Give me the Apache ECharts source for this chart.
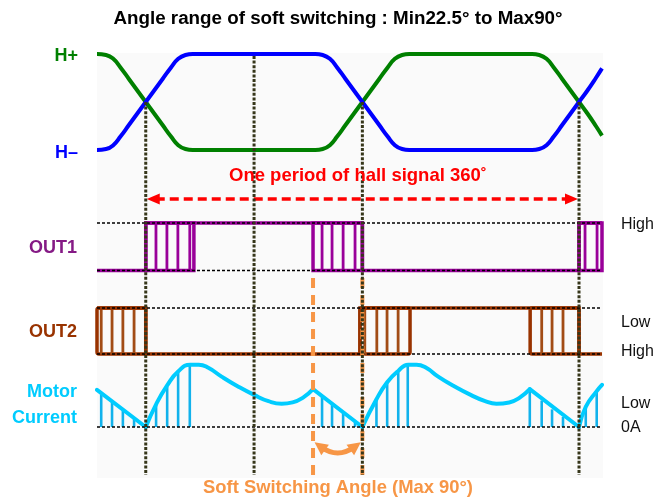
<!DOCTYPE html>
<html><head><meta charset="utf-8">
<script src="https://cdn.jsdelivr.net/npm/echarts@6/dist/echarts.min.js"></script>
<style>html,body{margin:0;padding:0;background:#fff}#c{width:655px;height:497px}</style>
</head><body><div id="c"></div>
<script>
// ---------------- data (x = electrical angle of the hall signal, degrees) ----------------
const X_MIN = -40.5, X_MAX = 379.1;

const hallPlus = [[-40.5,1],[-33,0.99],[-27,0.95],[-21,0.86],[-14,0.74],[-7,0.62],[0,0.5],[7,0.38],[14,0.26],[21,0.14],[27,0.05],[33,0.01],[39,0],[45,0],
  [135,0],[141,0],[147,0.01],[153,0.05],[159,0.14],[166,0.26],[173,0.38],[180,0.5],[187,0.62],[194,0.74],[201,0.86],[207,0.95],[213,0.99],[219,1],[225,1],
  [315,1],[321,1],[327,0.99],[333,0.95],[339,0.86],[346,0.74],[353,0.62],[360,0.5],[367,0.38],[374,0.25],[379.1,0.15]];
const hallMinus = [[-40.5,0],[-33,0.01],[-27,0.05],[-21,0.14],[-14,0.26],[-7,0.38],[0,0.5],[7,0.62],[14,0.74],[21,0.86],[27,0.95],[33,0.99],[39,1],[45,1],
  [135,1],[141,1],[147,0.99],[153,0.95],[159,0.86],[166,0.74],[173,0.62],[180,0.5],[187,0.38],[194,0.26],[201,0.14],[207,0.05],[213,0.01],[219,0],[225,0],
  [315,0],[321,0],[327,0.01],[333,0.05],[339,0.14],[346,0.26],[353,0.38],[360,0.5],[367,0.62],[374,0.75],[379.1,0.85]];

const guideAngles = [0, 90, 180, 360];
const periodArrow = [[0, 360]];
const softSwitch = [[139, 180]];

const out1Level = [[-40.5,0],[0,0],[0,1],[180,1],[180,0],[360,0],[360,1],[379.1,1]];
const out1Pwm = [[0,40],[139,180],[360,379.1]];
const out1Stripes = [8.5,17.6,26.7,36.6, 146.5,154.8,164,173.9, 365,375];

const out2Level = [[-40.5,1],[0,1],[0,0],[178,0],[178,1],[360,1],[360,0],[379.1,0]];
const out2Pwm = [[-40.5,0],[178,219.6],[319.4,360]];
const out2Stripes = [-37,-28,-19,-9.7, 182,192,200.5,209.7, 329,337.6,346.7];

const refLevelsOut = [0, 1];
const refLevelsCurrent = [0];

const currentFall1 = [[-40.5,0.59],[0,0]];
const currentRise1 = [[0,0],[8.6,0.36],[17.8,0.66],[26.9,0.88],[37,0.99],[44,0.99],[52,0.94],[63,0.8],[77,0.64],
  [90,0.51],[102,0.41],[113,0.37],[122,0.39],[131,0.47],[139,0.6]];
const currentFall2 = [[139,0.6],[180,0]];
const currentRise2 = [[180,0],[191.7,0.44],[200.6,0.71],[209.8,0.89],[218,0.99],[225,0.99],[233,0.94],[243,0.8],[256,0.65],
  [270,0.51],[282,0.41],[291.4,0.37],[302,0.39],[311,0.47],[319.1,0.6]];
const currentFall3 = [[319.1,0.6],[360,0]];
const currentRise3 = [[360,0],[365.6,0.32],[374.7,0.57],[379.1,0.67]];
const currentStems = [[-37,0.52],[-28,0.39],[-19,0.26],[-9.7,0.13],
  [8.6,0.36],[17.8,0.64],[26.9,0.86],[36.6,0.98],
  [146.5,0.50],[154.8,0.37],[164,0.24],[173.9,0.09],
  [191.7,0.43],[200.6,0.71],[209.8,0.87],[217.7,0.98],
  [319.1,0.59],[329,0.42],[337.6,0.28],[346.7,0.16],
  [365.6,0.30],[374.7,0.56]];

// ---------------- layout / style ----------------
const GL = 97, GW = 505;
const HALL = {top:54, h:96}, OUT1 = {top:223, h:47.5}, OUT2 = {top:308, h:46}, CUR = {top:364, h:63};
const GUIDE_BOTTOM = 475;
const C_GREEN = '#008000', C_BLUE = '#0000ff', C_OUT1 = '#990099', C_OUT2 = '#993300', C_OUT2S = '#a24c16';
const C_CUR = '#00ccff', C_STEM = '#12b2ec', C_ORANGE = '#f79646', C_RED = '#ff0000', C_GUIDE = '#36361a';
const FONT = '"Liberation Sans", Arial, sans-serif';

const grids = [HALL, OUT1, OUT2, CUR, {top:0, h:497}].map(g => ({left:GL, width:GW, top:g.top, height:g.h}));
const xAxes = grids.map((g,i) => ({gridIndex:i, type:'value', min:X_MIN, max:X_MAX, show:false}));
const yAxes = grids.map((g,i) => ({gridIndex:i, type:'value', min:0, max:1, show:false}));

function head(tip, dx, dy, len, w, color) {
  const bx = tip[0] - dx*len, by = tip[1] - dy*len;
  const px = -dy*w/2, py = dx*w/2;
  return {type:'polygon', shape:{points:[tip,[bx+px,by+py],[bx-px,by-py]]}, style:{fill:color}};
}

function blocks(data, gi, color, lw, r, z) {
  return {type:'custom', xAxisIndex:gi, yAxisIndex:gi, data:data, encode:{x:[0,1]}, z:z,
    renderItem:(p, api) => {
      const a = api.coord([api.value(0), 1]), b = api.coord([api.value(1), 0]);
      return {type:'rect', shape:{x:a[0], y:a[1], width:b[0]-a[0], height:b[1]-a[1], r:r},
        style:{fill:'none', stroke:color, lineWidth:lw}};
    }};
}
function stripes(data, gi, color, lw, z) {
  return {type:'custom', xAxisIndex:gi, yAxisIndex:gi, data:data.map(v=>[v]), encode:{x:0}, z:z,
    renderItem:(p, api) => {
      const a = api.coord([api.value(0), 0]), b = api.coord([api.value(0), 1]);
      return {type:'line', shape:{x1:a[0], y1:a[1], x2:b[0], y2:b[1]}, style:{stroke:color, lineWidth:lw}};
    }};
}
function levelLine(data, gi, color, lw, z) {
  return {type:'line', xAxisIndex:gi, yAxisIndex:gi, data:data, symbol:'none', clip:false, z:z,
    lineStyle:{color:color, width:lw, join:'miter'}};
}
function refLines(levels, gi) {
  return levels.map(l => ({type:'line', xAxisIndex:gi, yAxisIndex:gi, data:[[X_MIN,l],[X_MAX,l]], symbol:'none',
    clip:false, z:8, lineStyle:{color:'#000', width:1.4, type:[3,2]}}));
}

const series = [];
series.push({type:'line', xAxisIndex:0, yAxisIndex:0, data:hallPlus, smooth:0.5, symbol:'none', clip:false, z:3,
  lineStyle:{color:C_GREEN, width:4}});
series.push({type:'line', xAxisIndex:0, yAxisIndex:0, data:hallMinus, smooth:0.5, symbol:'none', clip:false, z:4,
  lineStyle:{color:C_BLUE, width:4}});

series.push(levelLine(out1Level, 1, C_OUT1, 3.5, 4));
series.push(blocks(out1Pwm, 1, C_OUT1, 3.5, 0, 4));
series.push(stripes(out1Stripes, 1, C_OUT1, 2.8, 4));
series.push(...refLines(refLevelsOut, 1));

series.push(levelLine(out2Level, 2, C_OUT2, 3.5, 4));
series.push(blocks(out2Pwm, 2, C_OUT2, 3.5, 2, 4));
series.push(stripes(out2Stripes, 2, C_OUT2S, 2.8, 4));
series.push(...refLines(refLevelsOut, 2));

series.push({type:'custom', xAxisIndex:3, yAxisIndex:3, data:currentStems, z:3,
  renderItem:(p, api) => {
    const a = api.coord([api.value(0), 0]), b = api.coord([api.value(0), api.value(1)]);
    return {type:'line', shape:{x1:a[0], y1:a[1], x2:b[0], y2:b[1]}, style:{stroke:C_STEM, lineWidth:2.6}};
  }});
[[currentFall1,false],[currentRise1,true],[currentFall2,false],[currentRise2,true],[currentFall3,false],[currentRise3,true]]
  .forEach(([d, sm]) => series.push({type:'line', xAxisIndex:3, yAxisIndex:3, data:d, smooth:sm?0.5:false,
    symbol:'none', clip:false, z:5, lineStyle:{color:C_CUR, width:4, cap:'round', join:'round'}}));
series.push(...refLines(refLevelsCurrent, 3));

// overlay: soft switching markers
series.push({type:'custom', xAxisIndex:4, yAxisIndex:4, data:softSwitch, encode:{x:[0,1]}, z:9,
  renderItem:(p, api) => {
    const x0 = api.coord([api.value(0), 0])[0], x1 = api.coord([api.value(1), 0])[0];
    const ch = [];
    [x0, x1].forEach(x => ch.push({type:'line', shape:{x1:x, y1:278, x2:x, y2:GUIDE_BOTTOM},
      style:{stroke:C_ORANGE, lineWidth:4, lineDash:[10,7]}}));
    const S = [x0+8, 447], E = [x1-8, 447], C = [(x0+x1)/2, 459];
    ch.push({type:'bezierCurve', shape:{x1:S[0], y1:S[1], x2:E[0], y2:E[1], cpx1:C[0], cpy1:C[1]},
      style:{stroke:C_ORANGE, lineWidth:5, fill:'none'}});
    let dx = S[0]-C[0], dy = S[1]-C[1], n = Math.hypot(dx,dy); dx/=n; dy/=n;
    ch.push(head([S[0]+dx*8, S[1]+dy*8], dx, dy, 13, 13, C_ORANGE));
    dx = E[0]-C[0]; dy = E[1]-C[1]; n = Math.hypot(dx,dy); dx/=n; dy/=n;
    ch.push(head([E[0]+dx*8, E[1]+dy*8], dx, dy, 13, 13, C_ORANGE));
    return {type:'group', children:ch};
  }});
// overlay: hall period arrow
series.push({type:'custom', xAxisIndex:4, yAxisIndex:4, data:periodArrow, encode:{x:[0,1]}, z:9,
  renderItem:(p, api) => {
    const x0 = api.coord([api.value(0), 0])[0], x1 = api.coord([api.value(1), 0])[0], y = 199;
    return {type:'group', children:[
      {type:'line', shape:{x1:x0+10, y1:y, x2:x1-10, y2:y}, style:{stroke:C_RED, lineWidth:3.5, lineDash:[9,5]}},
      head([x0+1, y], -1, 0, 13, 11, C_RED),
      head([x1-1, y], 1, 0, 13, 11, C_RED)
    ]};
  }});
// overlay: dotted guide lines
series.push({type:'custom', xAxisIndex:4, yAxisIndex:4, data:guideAngles.map(v=>[v]), encode:{x:0}, z:10,
  renderItem:(p, api) => {
    const v = api.value(0), x = api.coord([v, 0])[0];
    const top = (v % 180 === 0) ? HALL.top + HALL.h/2 : HALL.top + 2;
    return {type:'line', shape:{x1:x, y1:top, x2:x, y2:GUIDE_BOTTOM}, style:{stroke:C_GUIDE, lineWidth:3, lineDash:[3,1.6]}};
  }});

function txt(x, y, text, color, size, weight, align) {
  return {type:'text', x:x, y:y, z:20, style:{text:text, fill:color, font:(weight||'bold')+' '+size+'px '+FONT,
    align:align||'center', verticalAlign:'middle'}};
}
const graphics = [
  {type:'rect', z:-1, shape:{x:97, y:53, width:506, height:425}, style:{fill:'#fafafa'}},
  txt(338, 19, 'Angle range of soft switching : Min22.5° to Max90°', '#000', 18.8),
  txt(358, 176, 'One period of hall signal 360˚', C_RED, 18.5),
  txt(338, 488, 'Soft Switching Angle (Max 90°)', C_ORANGE, 18.4),
  txt(78, 56, 'H+', C_GREEN, 18, 'bold', 'right'),
  txt(78, 153, 'H–', C_BLUE, 18, 'bold', 'right'),
  txt(77, 248, 'OUT1', '#851a85', 18, 'bold', 'right'),
  txt(77, 332, 'OUT2', C_OUT2, 18, 'bold', 'right'),
  txt(77, 392, 'Motor', C_CUR, 18, 'bold', 'right'),
  txt(77, 418, 'Current', C_CUR, 18, 'bold', 'right'),
  txt(621, 225, 'High', '#111', 16, 'normal', 'left'),
  txt(621, 323, 'Low', '#111', 16, 'normal', 'left'),
  txt(621, 352, 'High', '#111', 16, 'normal', 'left'),
  txt(621, 404, 'Low', '#111', 16, 'normal', 'left'),
  txt(621, 428, '0A', '#111', 16, 'normal', 'left')
];

const chart = echarts.init(document.getElementById('c'), null, {renderer:'canvas'});
chart.setOption({animation:false, backgroundColor:'#fff', grid:grids, xAxis:xAxes, yAxis:yAxes,
  series:series, graphic:graphics});
</script></body></html>
